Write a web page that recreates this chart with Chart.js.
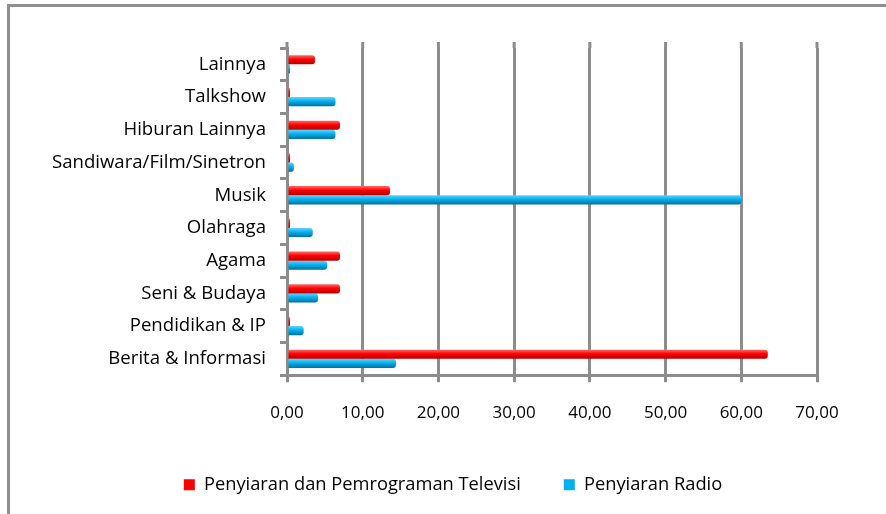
<!DOCTYPE html>
<html>
<head>
<meta charset="utf-8">
<script src="https://cdn.jsdelivr.net/npm/chart.js@4.4.1/dist/chart.umd.min.js"></script>
<style>
  html, body { margin: 0; padding: 0; background: #fff; }
  #wrap { position: relative; width: 886px; height: 514px; }
</style>
</head>
<body>
<div id="wrap"><canvas id="myChart"></canvas></div>
<script>
// kategori (atas ke bawah)
const kategori = ['Lainnya', 'Talkshow', 'Hiburan Lainnya', 'Sandiwara/Film/Sinetron', 'Musik',
  'Olahraga', 'Agama', 'Seni & Budaya', 'Pendidikan & IP', 'Berita & Informasi'];

const namaTV = 'Penyiaran dan Pemrograman Televisi';
const namaRadio = 'Penyiaran Radio';

// nilai (persen)
const nilaiTV = [3.7, 0.4, 7.0, 0.4, 13.6, 0.4, 7.0, 7.0, 0.4, 63.5];
const nilaiRadio = [0.4, 6.4, 6.4, 0.9, 60.0, 3.4, 5.3, 4.1, 2.2, 14.4];

const sumbuMin = 0;
const sumbuMax = 70;
const sumbuStep = 10;

const warnaTV = ['#ff6a6a', '#ff0000', '#b00000'];
const warnaRadio = ['#5fd4ff', '#00b0f0', '#00709a'];

// gradient per batang biar mirip silinder 3D
const gradien = (warna) => (ctx) => {
  const el = ctx.element;
  if (!el || el.height == null || isNaN(el.y)) return warna[1];
  const c = ctx.chart.ctx;
  const g = c.createLinearGradient(0, el.y - el.height / 2, 0, el.y + el.height / 2);
  g.addColorStop(0, warna[0]);
  g.addColorStop(0.45, warna[1]);
  g.addColorStop(1, warna[2]);
  return g;
};

// bingkai abu-abu + sambungan grid ke atas (dinding belakang)
const bingkai = {
  id: 'bingkai',
  beforeDraw(chart) {
    const c = chart.ctx;
    c.save();
    c.strokeStyle = '#8f8f8f';
    c.lineWidth = 3;
    c.strokeRect(8.5, 5.5, 900, 600);
    c.restore();
  },
  beforeDatasetsDraw(chart) {
    const c = chart.ctx;
    const sx = chart.scales.x;
    const top = chart.chartArea.top;
    c.save();
    c.strokeStyle = '#8c8c8c';
    c.lineWidth = 3;
    sx.ticks.forEach((t, i) => {
      const px = sx.getPixelForTick(i);
      c.beginPath();
      c.moveTo(px, top - 6);
      c.lineTo(px, top);
      c.stroke();
    });
    c.restore();
  }
};

const chart = new Chart(document.getElementById('myChart'), {
  type: 'bar',
  data: {
    labels: kategori,
    datasets: [
      {
        label: namaTV,
        data: nilaiTV,
        backgroundColor: gradien(warnaTV),
        borderWidth: 0,
        borderRadius: 3,
        borderSkipped: 'start',
        categoryPercentage: 0.56,
        barPercentage: 1.0
      },
      {
        label: namaRadio,
        data: nilaiRadio,
        backgroundColor: gradien(warnaRadio),
        borderWidth: 0,
        borderRadius: 3,
        borderSkipped: 'start',
        categoryPercentage: 0.56,
        barPercentage: 1.0
      }
    ]
  },
  options: {
    indexAxis: 'y',
    responsive: true,
    maintainAspectRatio: false,
    animation: false,
    layout: { padding: { left: 20, top: 48, right: 0, bottom: 10 } },
    plugins: {
      tooltip: { enabled: false },
      legend: {
        position: 'bottom',
        labels: {
          boxWidth: 11,
          boxHeight: 11,
          padding: 43,
          color: '#000',
          font: { family: 'Open Sans', size: 18.3 },
          generateLabels: (chart) => {
            const items = Chart.defaults.plugins.legend.labels.generateLabels(chart);
            const solid = [warnaTV[1], warnaRadio[1]];
            items.forEach((it, i) => { it.fillStyle = solid[i]; it.lineWidth = 0; it.strokeStyle = solid[i]; });
            return items;
          }
        }
      }
    },
    scales: {
      x: {
        min: sumbuMin,
        max: sumbuMax,
        ticks: {
          stepSize: sumbuStep,
          color: '#000',
          padding: 21,
          font: { family: 'Open Sans', size: 17 },
          callback: (v) => v.toFixed(2).replace('.', ',')
        },
        grid: { color: '#8c8c8c', lineWidth: 3, tickLength: 7 },
        border: { display: true, color: '#8c8c8c', width: 3 },
        afterFit: (s) => { s.height = 57.5; }
      },
      y: {
        ticks: {
          color: '#000',
          padding: 14,
          font: { family: 'Open Sans', size: 18.6 }
        },
        grid: { drawOnChartArea: false, color: '#8c8c8c', lineWidth: 3, tickLength: 7 },
        border: { display: true, color: '#8c8c8c', width: 3 },
        afterFit: (s) => { s.width = 267; }
      },
      kanan: {
        type: 'category',
        position: 'right',
        labels: kategori,
        ticks: { display: false },
        grid: { display: false },
        border: { display: false },
        afterFit: (s) => { s.width = 69; }
      }
    }
  },
  plugins: [bingkai]
});
chart.update('none');
</script>
</body>
</html>
